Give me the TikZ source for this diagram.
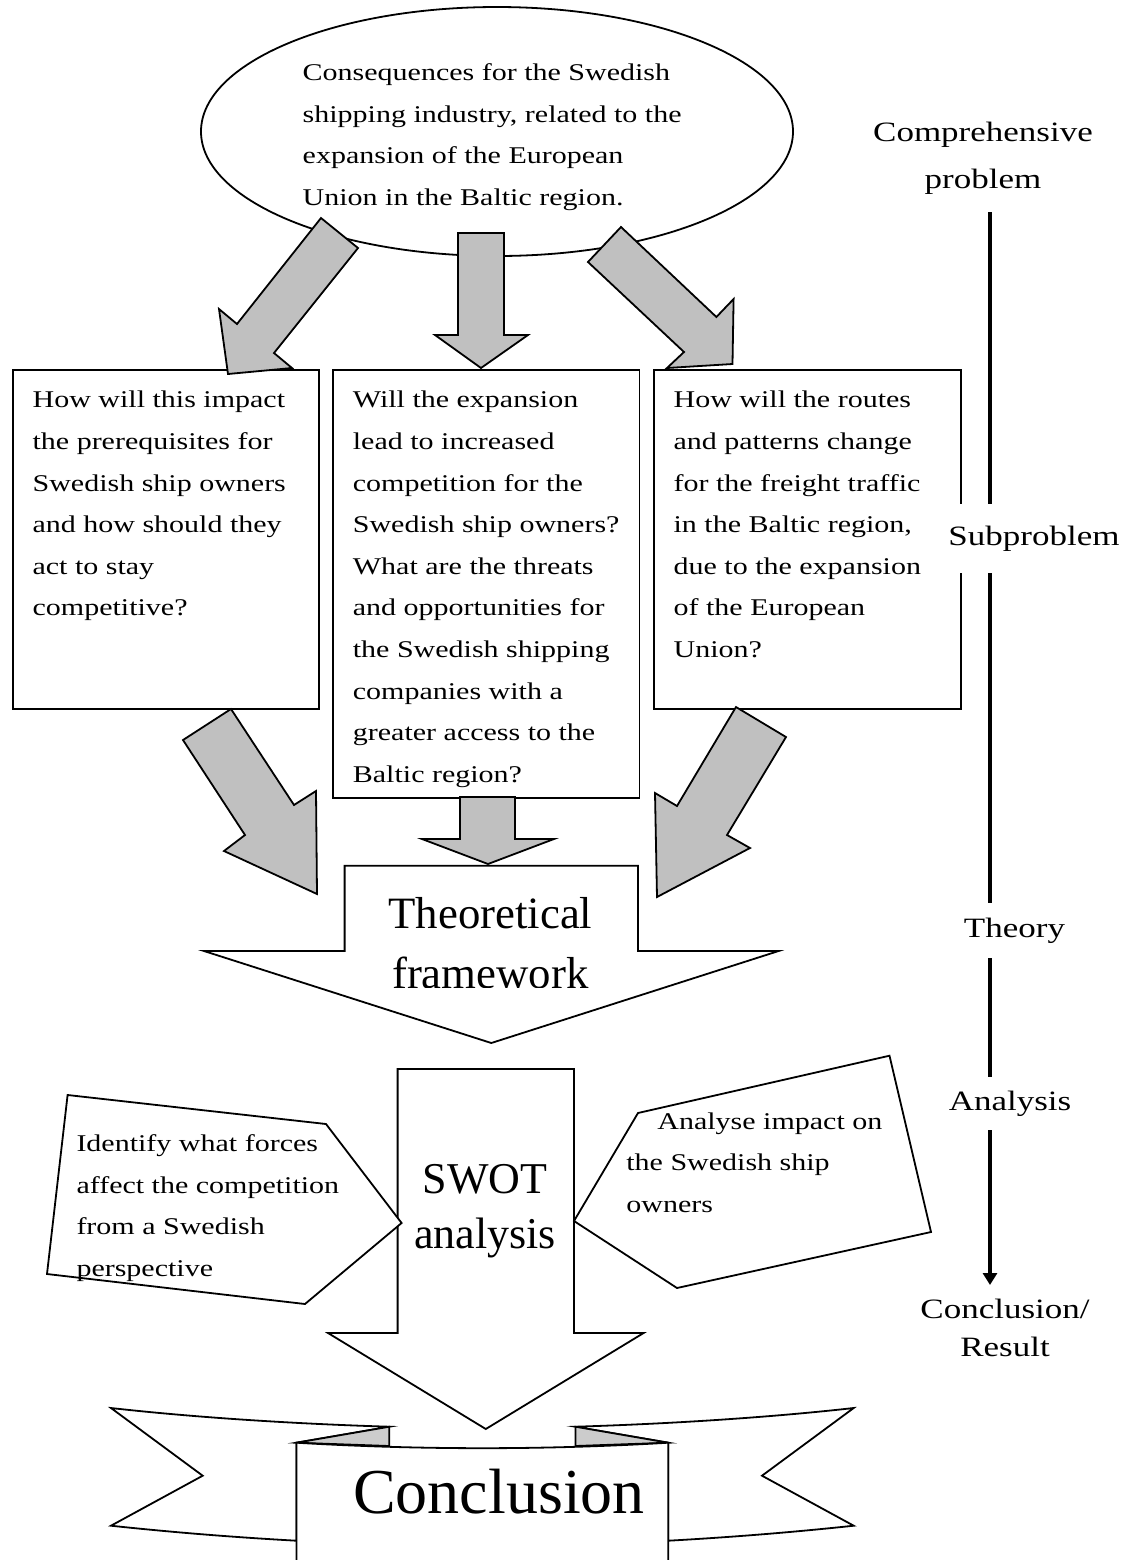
\documentclass[tikz,border=0pt]{standalone}
\usepackage{fontspec}
\setmainfont{Liberation Serif}[FakeStretch=1.25]
\newfontfamily\plainrm{Liberation Serif}
\usetikzlibrary{arrows.meta,shapes.geometric}
\definecolor{arrowgray}{HTML}{C0C0C0}
\definecolor{foldgray}{HTML}{CCCCCC}
\begin{document}
\begin{tikzpicture}[x=0.5pt, y=-0.5pt,
  line width=0.9pt,
  box/.style={draw, fill=white, inner sep=0pt, anchor=north west},
  txt/.style={align=left, inner sep=0pt, anchor=north west, font=\fontsize{12}{20.8}\selectfont},
  blk/.style={draw, fill=arrowgray, line join=miter},
  hollow/.style={draw, fill=white, line join=miter},
  big/.style={align=center, inner sep=0pt, anchor=north, font=\plainrm\fontsize{22.4}{30}\selectfont},
  lab/.style={fill=white, inner xsep=2pt, anchor=base, text height=9.5pt, text depth=3pt, font=\fontsize{14}{23.5}\selectfont},
  side/.style={align=center, inner sep=0pt, anchor=north, font=\fontsize{14}{23.5}\selectfont},
  axis/.style={line width=2pt, -{Triangle[length=6pt,width=7pt]}}]
\useasboundingbox (0,0) rectangle (1133,1560);
% comprehensive problem
\node[draw, ellipse, minimum width=296pt, minimum height=124.5pt, inner sep=0pt] (q) at (497,131.5) {};
\node[txt] (qt) at (301.8,62.6) {Consequences for the Swedish\\shipping industry, related to the\\expansion of the European\\Union in the Baltic region.};
% subproblems
\node[box, minimum width=153pt, minimum height=169.4pt] (s1) at (11.7,369) {};
\node[box, minimum width=153.25pt, minimum height=214pt] (s2) at (332,369) {};
\node[box, minimum width=153.5pt, minimum height=169.4pt] (s3) at (653,369) {};
\node[txt] (t1) at (31.7,390.3) {How will this impact\\the prerequisites for\\Swedish ship owners\\and how should they\\act to stay\\competitive?};
\node[txt] (t2) at (352,390.3) {Will the expansion\\lead to increased\\competition for the\\Swedish ship owners?\\What are the threats\\and opportunities for\\the Swedish shipping\\companies with a\\greater access to the\\Baltic region?};
\node[txt] (t3) at (672.7,390.3) {How will the routes\\and patterns change\\for the freight traffic\\in the Baltic region,\\due to the expansion\\of the European\\Union?};
% block arrows
\draw[blk] (321,218) -- (358,248) -- (274,353) -- (292,368) -- (228,374) -- (219,309) -- (237,324) -- cycle;
\draw[blk] (458,233) -- (504,233) -- (504,335) -- (528,335) -- (481,368) -- (435,335) -- (458,335) -- cycle;
\draw[blk] (621,227) -- (588,262) -- (684,352) -- (667,368) -- (732.5,364) -- (733.6,299) -- (716.4,317) -- cycle;
\draw[blk] (231,709) -- (183,740) -- (245,835) -- (224,851) -- (317,894) -- (316,791) -- (294,805) -- cycle;
\draw[blk] (460,797) -- (515,797) -- (515,839) -- (554,839) -- (488,864) -- (422,839) -- (460,839) -- cycle;
\draw[blk] (736,707) -- (786,737) -- (727,835) -- (750,848) -- (657,897) -- (655,793) -- (677,806) -- cycle;
% theory
\draw[hollow] (344.6,865.7) -- (638,865.7) -- (638,951) -- (778.6,951) -- (491.3,1043) -- (204,951) -- (344.6,951) -- cycle;
\begin{scope}
  \clip (300,860) rectangle (700,987);
  \node[big] (th) at (490.4,896.4) {Theoretical\\framework};
\end{scope}
% analysis
\draw[hollow] (397.6,1069) -- (574,1069) -- (574,1333) -- (643.6,1333) -- (485.8,1429) -- (328,1333) -- (397.6,1333) -- cycle;
\node[big, font=\plainrm\fontsize{22}{27.5}\selectfont] (sw) at (485,1163.5) {SWOT\\analysis};
\draw[hollow] (67.6,1095) -- (326,1124) -- (401.6,1223) -- (305,1304) -- (47,1274) -- cycle;
\draw[hollow] (638,1113) -- (889.5,1055.7) -- (931,1232) -- (677,1288) -- (574,1221) -- cycle;
\node[txt] (fl) at (75.6,1133.6) {Identify what forces\\affect the competition\\from a Swedish\\perspective};
\node[txt] (fr) at (625.5,1111.6) {\hspace*{15.5pt}Analyse impact on\\the Swedish ship\\owners};
% conclusion banner
\draw[hollow] (111,1408) .. controls (200,1418) and (300,1424) .. (389.3,1426.7) -- (296.4,1442.7) -- (296.4,1540.7) .. controls (230,1537) and (170,1532) .. (111,1525.7) -- (202.7,1475.7) -- cycle;
\draw[hollow] (853.7,1408) .. controls (764.7,1418) and (664.7,1424) .. (575.4,1426.7) -- (668.3,1442.7) -- (668.3,1540.7) .. controls (734.7,1537) and (794.7,1532) .. (853.7,1525.7) -- (762,1475.7) -- cycle;
\draw[fill=foldgray] (296.4,1442.7) -- (389.3,1426.7) -- (389.3,1446) -- cycle;
\draw[fill=foldgray] (668.3,1442.7) -- (575.4,1426.7) -- (575.4,1446) -- cycle;
\path[draw, fill=white] (296.4,1580) -- (296.4,1442.7) .. controls (420,1450) and (545,1450) .. (668.3,1442.7) -- (668.3,1580);
\node[anchor=base, inner sep=0pt, font=\plainrm\fontsize{32}{38}\selectfont] (cc) at (499,1513) {Conclusion};
% stages
\coordinate (a0) at (990,212);
\coordinate (a1) at (990,1285);
\draw[axis] (a0) -- (a1);
\node[side] (cp) at (983,120.9) {Comprehensive\\problem};
\node[lab, inner ysep=11pt] (sp) at (1034,545) {Subproblem};
\node[lab, inner ysep=7.5pt] (ty) at (1014.5,937) {Theory};
\node[lab, inner ysep=7pt] (an) at (1010,1110) {Analysis};
\node[side, font=\fontsize{14}{19}\selectfont] (cr) at (1005,1298) {Conclusion/\\Result};
\end{tikzpicture}
\end{document}
